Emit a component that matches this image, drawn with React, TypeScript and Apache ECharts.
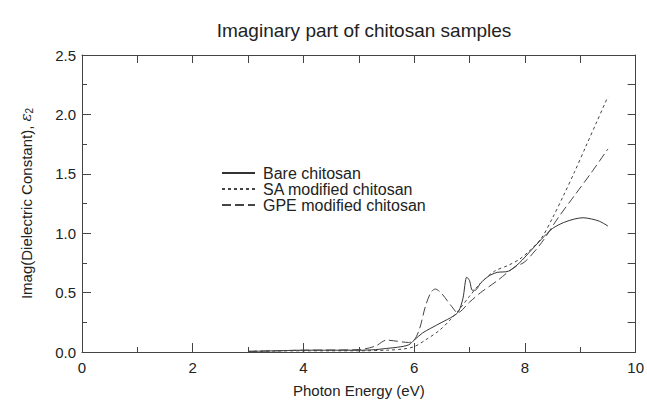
import React, { useEffect, useRef } from "react";
import * as echarts from "echarts";

const seriesNames = ["Bare chitosan", "SA modified chitosan", "GPE modified chitosan"];

const bareE = [3.0, 3.5, 4.0, 4.5, 5.0, 5.3, 5.5, 5.7, 5.9, 6.0, 6.15, 6.3, 6.5, 6.7, 6.8, 6.88, 6.95, 7.0, 7.05, 7.1, 7.2, 7.35, 7.5, 7.7, 7.9, 8.1, 8.3, 8.5, 8.7, 8.9, 9.05, 9.2, 9.35, 9.5];
const bareV = [0.005, 0.01, 0.015, 0.015, 0.015, 0.02, 0.03, 0.04, 0.06, 0.1, 0.16, 0.2, 0.25, 0.3, 0.34, 0.45, 0.63, 0.6, 0.52, 0.52, 0.58, 0.64, 0.67, 0.68, 0.75, 0.85, 0.95, 1.04, 1.09, 1.12, 1.13, 1.12, 1.1, 1.06];

const saE = [3.0, 4.0, 5.0, 5.5, 5.8, 6.0, 6.2, 6.45, 6.65, 6.8, 7.0, 7.2, 7.45, 7.7, 7.9, 8.1, 8.3, 8.5, 8.7, 8.9, 9.1, 9.3, 9.5];
const saV = [0.005, 0.01, 0.01, 0.015, 0.025, 0.045, 0.1, 0.18, 0.27, 0.35, 0.47, 0.58, 0.68, 0.73, 0.78, 0.86, 0.96, 1.13, 1.32, 1.52, 1.73, 1.94, 2.15];

const gpeE = [3.0, 4.0, 5.0, 5.3, 5.5, 5.7, 5.9, 6.0, 6.1, 6.2, 6.3, 6.38, 6.5, 6.6, 6.7, 6.78, 7.0, 7.2, 7.5, 7.8, 8.0, 8.3, 8.6, 8.9, 9.2, 9.5];
const gpeV = [0.005, 0.015, 0.02, 0.05, 0.1, 0.09, 0.08, 0.1, 0.2, 0.38, 0.5, 0.53, 0.49, 0.43, 0.37, 0.33, 0.42, 0.5, 0.6, 0.71, 0.76, 0.92, 1.13, 1.32, 1.51, 1.71];

const FONT = "Liberation Sans, Arial, sans-serif";
const AX = "#444";
const TXT = "#222";

function pairs(xs: number[], ys: number[]) {
  return xs.map((x, i) => [x, ys[i]]);
}

export default function App() {
  const ref = useRef<HTMLDivElement>(null);
  useEffect(() => {
    if (!ref.current) return;
    const chart = echarts.init(ref.current, undefined, { renderer: "svg" });
    const lineCommon = {
      type: "line",
      symbol: "none",
      smooth: 0.3,
      xAxisIndex: 0,
      yAxisIndex: 0,
    };
    chart.setOption({
      animation: false,
      backgroundColor: "#fff",
      textStyle: { fontFamily: FONT },
      title: {
        text: "Imaginary part of chitosan samples",
        left: 359,
        top: 16,
        textAlign: "center",
        textStyle: { fontSize: 19, fontWeight: "normal", color: TXT, fontFamily: FONT },
      },
      legend: {
        orient: "vertical",
        left: 221,
        top: 165,
        padding: 0,
        itemWidth: 33,
        itemHeight: 18,
        itemGap: 0,
        itemStyle: { opacity: 0 },
        textStyle: { fontSize: 16, color: TXT, fontFamily: FONT, padding: [0, 0, 0, 3] },
        data: seriesNames,
      },
      grid: { left: 82, right: 10, top: 55, bottom: 51 },
      xAxis: [
        {
          type: "value",
          min: 0,
          max: 10,
          interval: 2,
          position: "bottom",
          name: "Photon Energy (eV)",
          nameLocation: "middle",
          nameGap: 31,
          nameTextStyle: { fontSize: 15, color: TXT, fontFamily: FONT },
          axisLine: { show: true, onZero: false, lineStyle: { color: AX, width: 1 } },
          axisTick: { show: true, inside: true, length: 9, lineStyle: { color: AX } },
          minorTick: { show: true, splitNumber: 2, length: 5, lineStyle: { color: AX } },
          axisLabel: { fontSize: 15, color: TXT, margin: 8, fontFamily: FONT },
          splitLine: { show: false },
        },
        {
          type: "value",
          min: 0,
          max: 10,
          interval: 1,
          position: "top",
          axisLine: { show: true, onZero: false, lineStyle: { color: AX, width: 1 } },
          axisTick: { show: true, inside: true, length: 8, lineStyle: { color: AX } },
          axisLabel: { show: false },
          splitLine: { show: false },
        },
      ],
      yAxis: [
        {
          type: "value",
          min: 0,
          max: 2.5,
          interval: 0.5,
          position: "left",
          name: "Imag(Dielectric Constant), {e|ε}{s|2}",
          nameLocation: "middle",
          nameGap: 48,
          nameTextStyle: {
            fontSize: 15,
            color: TXT,
            fontFamily: FONT,
            rich: {
              e: { fontSize: 15, fontStyle: "italic", color: TXT, fontFamily: "DejaVu Serif, serif" },
              s: { fontSize: 10, color: TXT, verticalAlign: "bottom", padding: [6, 0, 0, 0], fontFamily: FONT },
            },
          },
          axisLine: { show: true, onZero: false, lineStyle: { color: AX, width: 1 } },
          axisTick: { show: true, inside: true, length: 9, lineStyle: { color: AX } },
          minorTick: { show: true, splitNumber: 2, length: 5, lineStyle: { color: AX } },
          axisLabel: {
            fontSize: 15,
            color: TXT,
            margin: 6,
            fontFamily: FONT,
            formatter: (v: number) => v.toFixed(1),
          },
          splitLine: { show: false },
        },
        {
          type: "value",
          min: 0,
          max: 2.5,
          interval: 0.25,
          position: "right",
          axisLine: { show: true, onZero: false, lineStyle: { color: AX, width: 1 } },
          axisTick: { show: true, inside: true, length: 8, lineStyle: { color: AX } },
          axisLabel: { show: false },
          splitLine: { show: false },
        },
      ],
      series: [
        {
          ...lineCommon,
          name: seriesNames[0],
          data: pairs(bareE, bareV),
          lineStyle: { color: "#333", width: 1, type: "solid" },
          itemStyle: { color: "#333" },
        },
        {
          ...lineCommon,
          name: seriesNames[1],
          data: pairs(saE, saV),
          lineStyle: { color: "#444", width: 1, type: [3, 3] },
          itemStyle: { color: "#444" },
        },
        {
          ...lineCommon,
          name: seriesNames[2],
          data: pairs(gpeE, gpeV),
          lineStyle: { color: "#444", width: 1, type: [9, 4] },
          itemStyle: { color: "#444" },
        },
      ],
    });
    return () => chart.dispose();
  }, []);
  return <div ref={ref} style={{ width: 647, height: 403, position: "absolute", left: 0, top: 0 }} />;
}
